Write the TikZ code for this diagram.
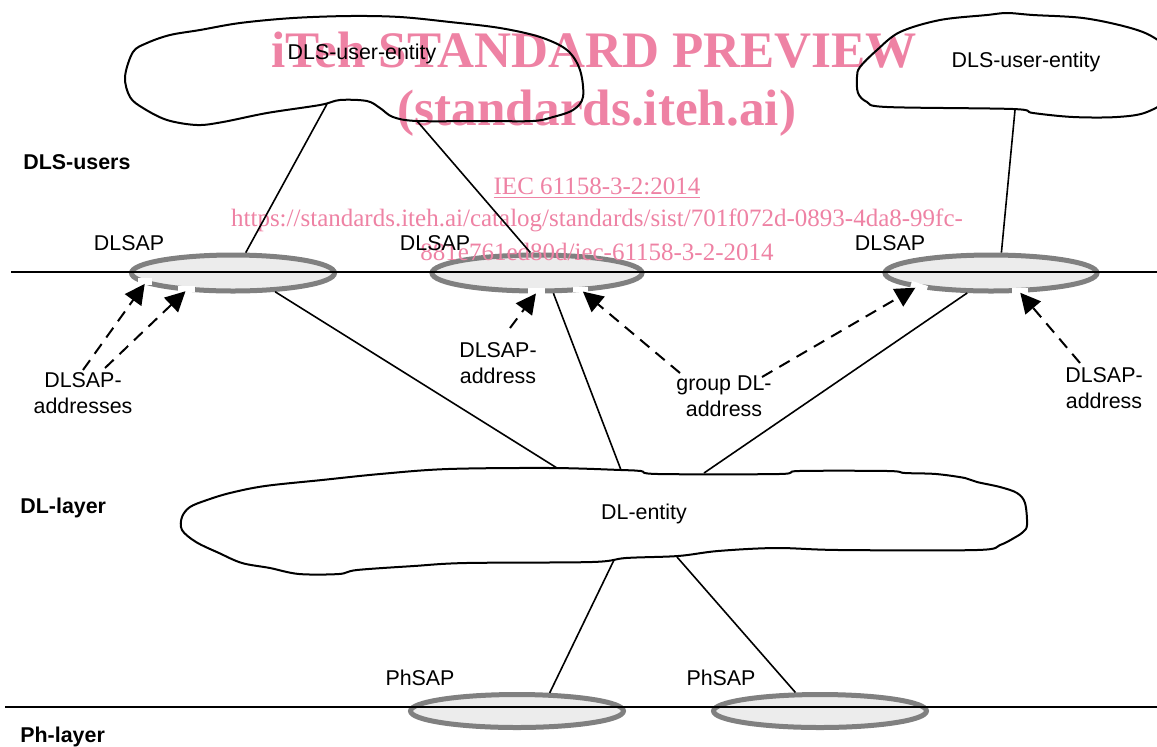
\documentclass[tikz,border=0pt]{standalone}
\usepackage{fontspec}
\setmainfont{Liberation Sans}
\newfontfamily\wmfont{Liberation Serif}
\usetikzlibrary{shapes.geometric,arrows.meta}
\definecolor{wm}{RGB}{238,130,164}
\definecolor{sapgray}{RGB}{128,128,128}
\definecolor{sapfill}{RGB}{236,236,236}
\begin{document}
\begin{tikzpicture}[x=0.5pt,y=-0.5pt,
  every node/.style={font=\fontsize{10.7}{12.8}\selectfont, inner sep=0pt},
  sap/.style={ellipse, draw=sapgray, fill=sapfill, line width=2.5pt, inner sep=0pt},
  layerline/.style={line width=1pt},
  conn/.style={line width=0.8pt},
  addr/.style={line width=1pt, dash pattern=on 6pt off 4pt, -{Triangle[length=10pt,width=10pt]}},
  cloudline/.style={line width=1pt},
  lbl/.style={align=center},
  layerlbl/.style={font=\fontsize{10.7}{12.8}\selectfont\bfseries, anchor=west},
  gap/.style={fill=white, draw=none},
  wmbig/.style={text=wm, font=\wmfont\bfseries\fontsize{25.6}{30}\selectfont},
  wmsmall/.style={text=wm, font=\wmfont\fontsize{12.5}{15}\selectfont}
]
\useasboundingbox (0,0) rectangle (1157,746);

% SAP ellipses
\node[sap, minimum width=101.5pt, minimum height=18pt] (e1) at (233,273) {};
\node[sap, minimum width=105pt, minimum height=18pt] (e2) at (537,273) {};
\node[sap, minimum width=106pt, minimum height=18pt] (e3) at (991,273) {};
\node[sap, minimum width=106.5pt, minimum height=16.5pt] (p1) at (517,711) {};
\node[sap, minimum width=106.5pt, minimum height=16.5pt] (p2) at (820,711) {};

% gaps on the SAP borders
\fill[gap] (138,278) rectangle (152,285);
\fill[gap] (178,286) rectangle (195,292);
\fill[gap] (528,288) rectangle (545,295);
\fill[gap] (573,287) rectangle (588,292);
\fill[gap] (912,281) -- (928,286) -- (926,293) -- (910,288) -- cycle;
\fill[gap] (1012,288) rectangle (1028,294);

% watermark
\node[wmbig] (w1) at (594,50) {iTeh STANDARD PREVIEW};
\node[wmbig] (w2) at (597,113) {(standards.iteh.ai)};
\node[wmsmall] (w3) at (597,188) {\underline{IEC 61158-3-2:2014}};
\node[wmsmall] (w4) at (597,220) {https://standards.iteh.ai/catalog/standards/sist/701f072d-0893-4da8-99fc-};
\node[wmsmall] (w5) at (597,252) {881e761ed80d/iec-61158-3-2-2014};

% clouds
\begin{scope}
\clip (0,0) rectangle (1157,746);
\draw[cloudline] plot[smooth cycle, tension=0.55] coordinates {
  (125,77) (133,52) (147,43) (170,35) (200,30) (240,23) (293,18) (350,16)
  (400,17) (450,22) (500,28) (540,37) (567,50) (580,70) (583,97) (573,110)
  (553,117) (533,121) (483,121) (417,121) (393,117) (380,108) (367,101)
  (340,100) (320,105) (267,113) (223,122) (197,125) (167,120) (143,108) (130,97)};
\draw[cloudline] plot[smooth cycle, tension=0.55] coordinates {
  (857,77) (858,93) (867,102) (887,107) (1013,109) (1033,113) (1073,117)
  (1117,117) (1147,112) (1170,95) (1172,55) (1153,37) (1127,27) (1083,18)
  (1033,15) (1007,13) (987,15) (940,20) (900,32) (877,50) (860,67)};
\draw[cloudline] plot[smooth cycle, tension=0.55] coordinates {
  (182,517) (190,507) (207,500) (230,493) (265,486) (322,480) (380,474)
  (448,469) (552,468) (621,470) (641,471) (658,474) (779,474) (799,471)
  (888,471) (905,473) (936,474) (965,478) (977,482) (1000,487) (1017,493)
  (1025,503) (1027,525) (1023,532) (1014,538) (1000,545) (977,550) (839,550)
  (776,548) (718,551) (678,556) (626,558) (592,562) (466,563) (414,566)
  (357,570) (339,574) (299,574) (270,568) (242,563) (219,553) (196,542) (182,530)};
\end{scope}

\node (u1) at (362,54) {DLS-user-entity};
\node (u2) at (1026,62) {DLS-user-entity};
\node (dle) at (644,514) {DL-entity};

% boundary points of the clouds
\coordinate (u1a) at (327,104);
\coordinate (u1b) at (417,121);
\coordinate (u2a) at (1015,110);
\coordinate (dlt1) at (557,468);
\coordinate (dlt2) at (621,470);
\coordinate (dlt3) at (704,473);
\coordinate (dlb1) at (614,560);
\coordinate (dlb2) at (677,557);

% layer lines
\coordinate (l1a) at (11,272);
\coordinate (l1b) at (1157,272);
\coordinate (l2a) at (5,707);
\coordinate (l2b) at (1157,707);
\draw[layerline] (l1a) -- (l1b);
\draw[layerline] (l2a) -- (l2b);

% labels
\node[layerlbl] (lu) at (23,162) {DLS-users};
\node[layerlbl] (ld) at (20,508) {DL-layer};
\node[layerlbl] (lp) at (20,737) {Ph-layer};
\node (s1) at (129,243) {DLSAP};
\node (s2) at (435,243) {DLSAP};
\node (s3) at (890,243) {DLSAP};
\node (ps1) at (420,678) {PhSAP};
\node (ps2) at (721,678) {PhSAP};
\node[lbl] (t1) at (83,393) {DLSAP-\\addresses};
\node[lbl] (t2) at (498,363) {DLSAP-\\address};
\node[lbl] (t3) at (724,396) {group DL-\\address};
\node[lbl] (t4) at (1104,388) {DLSAP-\\address};

% connectors
\draw[conn] (u1a) -- (e1.58.6);
\draw[conn] (u1b) -- (e2.108.4);
\draw[conn] (u2a) -- (e3.63.4);
\draw[conn] (e1.-24.3) -- (dlt1);
\draw[conn] (e2.-51.3) -- (dlt2);
\draw[conn] (e3.220.2) -- (dlt3);
\draw[conn] (dlb1) -- (p1.29.5);
\draw[conn] (dlb2) -- (p2.143.5);

% address arrows
\coordinate (a1s) at (83,370);
\coordinate (a2s) at (105,368);
\coordinate (a3s) at (510,328);
\coordinate (a4s) at (680,373);
\coordinate (a5s) at (762,377);
\coordinate (a6s) at (1080,363);
\draw[addr] (a1s) -- (e1.187.5);
\draw[addr] (a2s) -- (e1.201.6);
\draw[addr] (a3s) -- (e2.267.3);
\draw[addr] (a4s) -- (e2.-22.6);
\draw[addr] (a5s) -- (e3.191.9);
\draw[addr] (a6s) -- (e3.-34.6);
\end{tikzpicture}
\end{document}
